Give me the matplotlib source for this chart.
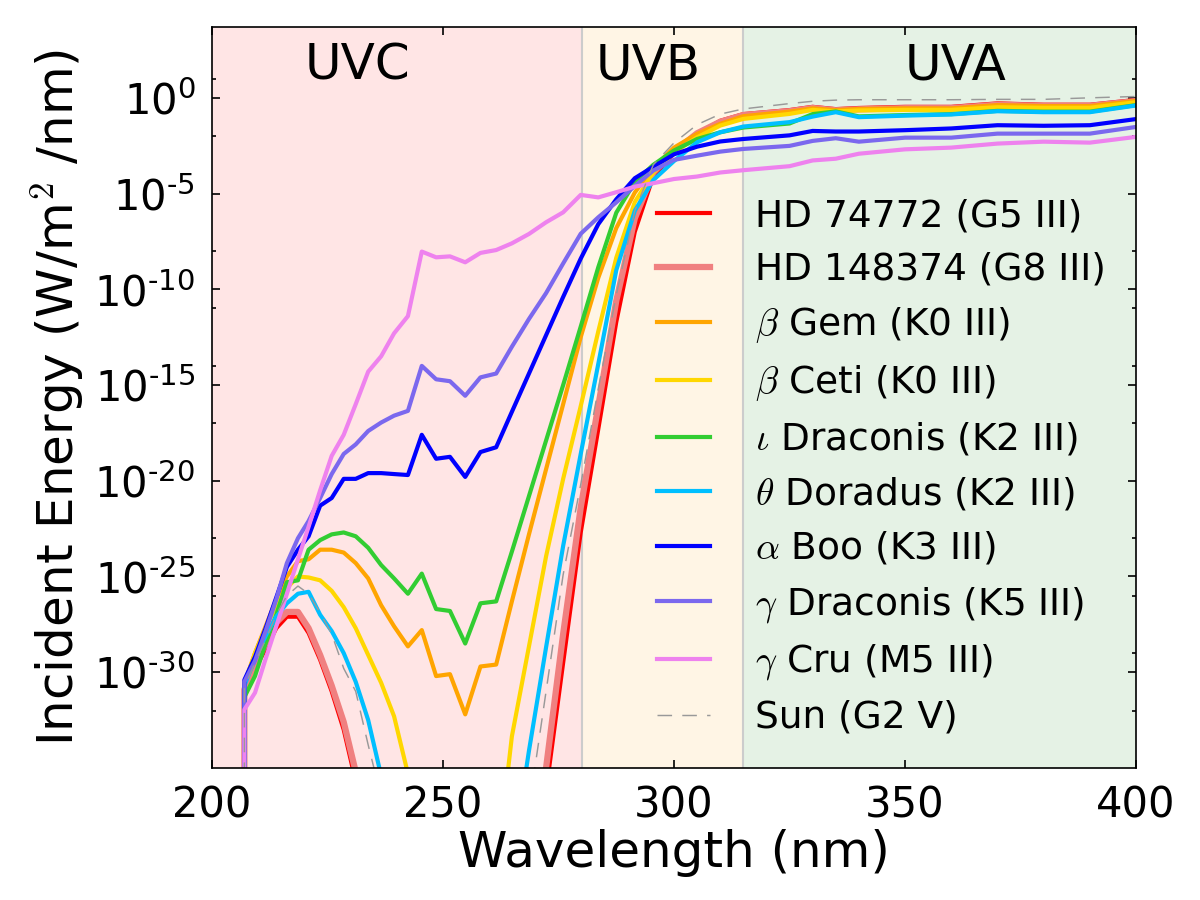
import numpy as np
import matplotlib
matplotlib.use("Agg")
import matplotlib.pyplot as plt
from matplotlib.ticker import FixedLocator, NullLocator, NullFormatter

plt.rcParams['font.family'] = ['DejaVu Sans']
plt.rcParams['mathtext.fontset'] = 'cm'

# wavelength grid (nm); first sample has zero flux
wavelength = [206.9, 207.0, 209.3, 211.6, 213.9, 216.2, 218.6, 220.9, 223.4, 225.9, 228.5,
              231.1, 233.8, 236.6, 239.4, 242.4, 245.4, 248.5, 251.5, 254.8, 258.1,
              261.5, 264.9, 268.6, 272.3, 276.0, 279.8, 283.6, 287.5, 291.5, 295.5,
              300.0, 305.0, 310.0, 315.0, 325.0, 330.0, 335.0, 340.0, 350.0, 360.0,
              370.0, 380.0, 390.0, 400.0]

# log10 of incident energy (W/m^2/nm) from 207 nm onward
log_hd74772 = [-31.0, -29.8, -28.8, -27.7, -27.1, -27.1, -27.95, -29.35, -31.0, -33.0,
               -35.7, -38.5, -41, -43, -45, -46, -47, -47, -47, -46,
               -44, -42, -39.5, -36.2, -29.5, -22.7, -17.3, -11.7, -7.0, -4.1,
               -2.9, -1.9, -1.2, -0.85, -0.64, -0.47, -0.59, -0.53, -0.47, -0.47,
               -0.29, -0.36, -0.36, -0.11]
log_hd148374 = [-30.9, -29.6, -28.5, -27.4, -26.85, -26.85, -27.7, -29.1, -30.7, -32.6,
                -35.2, -38, -40.5, -42.5, -44.5, -45.5, -46.5, -46.5, -46.5, -45.5,
                -43.5, -41.5, -39, -35.0, -28.0, -21.4, -16.1, -10.6, -6.3, -3.9,
                -2.8, -1.85, -1.25, -0.9, -0.7, -0.53, -0.65, -0.6, -0.54, -0.54,
                -0.36, -0.42, -0.42, -0.17]
log_beta_gem = [-30.6, -29.0, -27.6, -26.2, -25.0, -24.2, -24.1, -23.6, -23.6, -23.75,
                -24.3, -25.1, -26.5, -27.6, -28.65, -27.8, -30.2, -30.1, -32.2, -29.7,
                -29.6, -26.3, -22.8, -19.4, -16.0, -12.5, -9.4, -6.8, -4.95, -3.65,
                -2.6, -1.88, -1.36, -0.96, -0.72, -0.55, -0.64, -0.58, -0.55, -0.55,
                -0.38, -0.43, -0.43, -0.16]
log_beta_ceti = [-30.6, -29.0, -27.7, -26.5, -25.6, -25.0, -25.05, -25.2, -25.75, -26.6,
                 -27.7, -29.1, -30.55, -32.3, -35.3, -38, -40, -41, -42, -41.5,
                 -40.5, -33.35, -28.65, -23.95, -19.9, -16.1, -12.2, -8.35, -5.45, -3.9,
                 -2.85, -2.06, -1.45, -1.1, -0.84, -0.63, -0.71, -0.66, -0.63, -0.63,
                 -0.49, -0.52, -0.52, -0.23]
log_iota_dra = [-31.3, -30.2, -28.5, -27.0, -25.3, -25.2, -23.6, -23.1, -22.8, -22.7,
                -22.9, -23.5, -24.4, -25.1, -25.9, -24.85, -26.7, -26.8, -28.5, -26.4,
                -26.3, -23.7, -20.8, -17.9, -15.0, -11.95, -8.85, -6.0, -4.4, -3.5,
                -2.75, -2.15, -1.8, -1.55, -1.34, -0.85, -0.71, -0.97, -0.9, -0.85,
                -0.68, -0.72, -0.72, -0.38]
log_theta_dor = [-30.7, -29.3, -28.1, -27.1, -26.4, -25.9, -25.8, -27.0, -27.85, -29.0,
                 -30.5, -32.5, -35.4, -38, -40.5, -42, -43, -44, -44, -43.5,
                 -42.5, -40, -34.1, -28.7, -23.4, -18.6, -13.9, -9.0, -5.9, -4.3,
                 -3.3, -2.32, -1.8, -1.5, -1.27, -0.98, -0.75, -1.01, -0.93, -0.87,
                 -0.70, -0.75, -0.75, -0.40]
log_alpha_boo = [-30.4, -29.2, -27.7, -26.1, -24.5, -23.6, -22.9, -21.3, -20.9, -19.9,
                 -19.9, -19.6, -19.6, -19.65, -19.7, -17.6, -18.85, -18.75, -19.8, -18.5,
                 -18.25, -16.4, -14.4, -12.4, -10.4, -8.4, -6.6, -5.3, -4.2, -3.6,
                 -2.95, -2.55, -2.28, -2.15, -1.96, -1.73, -1.76, -1.76, -1.69, -1.60,
                 -1.43, -1.46, -1.43, -1.11]
log_gamma_dra = [-30.5, -29.4, -27.85, -26.2, -24.3, -23.0, -22.1, -20.9, -19.65, -18.6,
                 -18.1, -17.4, -16.96, -16.6, -16.35, -14.0, -14.7, -14.8, -15.56, -14.6,
                 -14.4, -13.0, -11.55, -10.2, -8.65, -7.1, -6.24, -5.46, -4.6, -3.8,
                 -3.24, -3.02, -2.81, -2.67, -2.51, -2.25, -2.11, -2.29, -2.08, -2.08,
                 -1.87, -1.87, -1.87, -1.52]
log_gamma_cru = [-31.95, -31.07, -29.3, -27.6, -25.9, -24.1, -22.4, -20.5, -18.7, -17.6,
                 -16.0, -14.3, -13.5, -12.3, -11.4, -8.03, -8.33, -8.28, -8.59, -8.10,
                 -7.95, -7.60, -7.11, -6.50, -5.98, -5.07, -5.20, -4.93, -4.64, -4.46,
                 -4.24, -4.11, -3.9, -3.78, -3.57, -3.27, -3.18, -2.92, -2.69, -2.60,
                 -2.39, -2.29, -2.34, -2.04]
log_sun = [-30.8, -29.5, -28.3, -27.0, -26.0, -25.5, -25.9, -26.9, -28.0, -29.8,
           -31.0, -33.8, -36.5, -39, -41, -42.5, -43.5, -44, -44, -43.5,
           -42.5, -41, -37.1, -31.0, -24.9, -20.2, -15.2, -10.3, -5.9, -3.5,
           -2.35, -1.4, -0.85, -0.58, -0.3, -0.18, -0.12, -0.1, -0.1, -0.1,
           -0.08, -0.08, 0.0, 0.07]

labels = ["HD 74772 (G5 III)", "HD 148374 (G8 III)", r"$\beta$ Gem (K0 III)",
          r"$\beta$ Ceti (K0 III)", r"$\iota$ Draconis (K2 III)", r"$\theta$ Doradus (K2 III)",
          r"$\alpha$ Boo (K3 III)", r"$\gamma$ Draconis (K5 III)", r"$\gamma$ Cru (M5 III)",
          "Sun (G2 V)"]
series = [log_hd74772, log_hd148374, log_beta_gem, log_beta_ceti, log_iota_dra,
          log_theta_dor, log_alpha_boo, log_gamma_dra, log_gamma_cru, log_sun]
colors = ["red", "lightcoral", "orange", "gold", "limegreen", "deepskyblue",
          "blue", "mediumslateblue", "violet", "0.6"]

bands = [(200, 280, "red", "UVC", 220), (280, 315, "orange", "UVB", 283),
         (315, 400, "green", "UVA", 350)]

fig = plt.figure(figsize=(8, 6), dpi=150)
ax = fig.add_axes([0.1767, 0.1467, 0.77, 0.8233])
ax.set_yscale('log')

for lo, hi, c, name, tx in bands:
    ax.axvspan(lo, hi, color=c, alpha=0.1, lw=0)
    ax.text(tx, 10 ** 0.95, name, fontsize=24, ha='left', va='baseline')
for edge in [280, 315]:
    ax.axvline(edge, color='0.8', lw=1)

wl = np.array(wavelength)
for vals, lab, c in zip(series, labels, colors):
    e = np.concatenate([[0.0], 10.0 ** np.array(vals)])
    if lab.startswith("Sun"):
        ax.plot(wl, e, color=c, lw=0.7, ls=(0, (10, 7)), label=lab)
    elif c == "lightcoral":
        ax.plot(wl, e, color=c, lw=3, label=lab)
    else:
        ax.plot(wl, e, color=c, lw=2, label=lab)

ax.set_xlim(200, 400)
ax.set_ylim(1e-35, 5e3)
ax.set_xticks([200, 250, 300, 350, 400])
ax.xaxis.set_minor_locator(NullLocator())
major_exp = [0, -5, -10, -15, -20, -25, -30]
ax.yaxis.set_major_locator(FixedLocator([10.0 ** k for k in major_exp]))
ax.set_yticklabels([r"$\mathregular{10^{%s}}$" % (str(k).replace('-', '\u2010')) for k in major_exp])
ax.yaxis.set_minor_locator(FixedLocator([10.0 ** k for k in range(1, -35, -3)]))
ax.yaxis.set_minor_formatter(NullFormatter())
ax.tick_params(which='both', direction='in', top=True, right=True, labelsize=20)
ax.tick_params(which='major', length=4, width=0.8, pad=8)
ax.tick_params(which='minor', length=2, width=0.8)

ax.set_xlabel("Wavelength (nm)", fontsize=24, labelpad=1)
ax.set_ylabel(r"Incident Energy (W/m$^2$ /nm)", fontsize=24)

ax.legend(loc='upper left', bbox_to_anchor=(0.4816, 0.769), frameon=False, fontsize=18,
          handlelength=1.4, handletextpad=1.2, labelspacing=0.47, borderpad=0, borderaxespad=0)

fig.savefig("out.png", dpi=150)
